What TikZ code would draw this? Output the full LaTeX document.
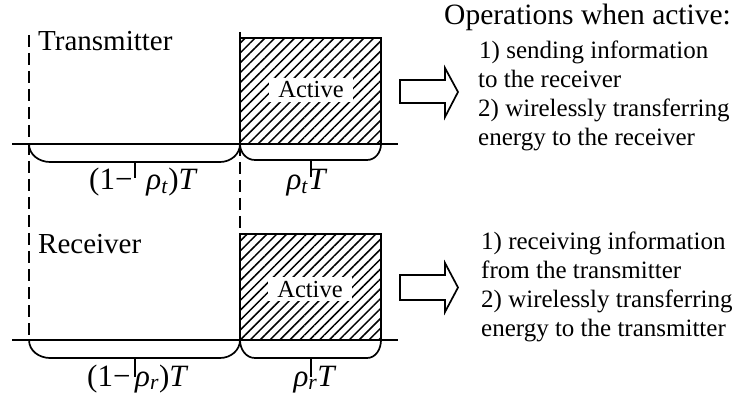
\documentclass[tikz,border=0pt]{standalone}
\usepackage{fontspec}
\setmainfont{Liberation Serif}
\usetikzlibrary{patterns.meta}
\newcommand\myrho{\textit{ρ}}
\begin{document}
\begin{tikzpicture}[x=1pt,y=1pt,
  axisline/.style={line width=1.1pt},
  braceline/.style={line width=1.7pt},
  dashline/.style={line width=1.3pt, dash pattern=on 12pt off 6pt},
  hatchbox/.style={line width=1.7pt, pattern={Lines[angle=45,distance=7pt,line width=1.5pt]}},
  actlabel/.style={fill=white, inner xsep=9pt, inner ysep=4pt, font=\fontsize{24.5}{28}\selectfont, anchor=base},
  rolelabel/.style={font=\fontsize{29}{33}\selectfont, anchor=base west, inner sep=0pt},
  durlabel/.style={font=\fontsize{31}{35}\selectfont, anchor=base, inner sep=0pt},
  optext/.style={font=\fontsize{25}{29}\selectfont, anchor=base west, inner sep=0pt},
  bigarrow/.style={line width=1.7pt, fill=white, line join=miter}
]
\useasboundingbox (0,0) rectangle (736,402);

% ---------- hatched active boxes ----------
\draw[hatchbox] (240,258) rectangle (381,364);
\draw[hatchbox] (240,62) rectangle (381,168);

% ---------- time axes ----------
\draw[axisline] (12,258) -- (398,258);
\draw[axisline] (12,62) -- (398,62);

% ---------- dashed boundaries ----------
\draw[dashline] (29,367) -- (29,62);
\draw[dashline] (240,370) -- (240,364);
\draw[dashline] (240,258) -- (240,168);

% ---------- braces (top) ----------
\draw[braceline] (29,258) to[out=-90,in=180] (50,240) -- (220,240) to[out=0,in=-90] (240,258);
\draw[braceline] (135,240) -- (135,224);
\draw[braceline] (240,258) to[out=-90,in=180] (255,242) -- (367,242) to[out=0,in=-90] (381,258);
\draw[braceline] (311,242) -- (311,225);

% ---------- braces (bottom) ----------
\draw[braceline] (29,62) to[out=-90,in=180] (50,44) -- (220,44) to[out=0,in=-90] (240,62);
\draw[braceline] (135,44) -- (135,25);
\draw[braceline] (240,62) to[out=-90,in=180] (255,44) -- (367,44) to[out=0,in=-90] (381,62);
\draw[braceline] (311,44) -- (311,25);

% ---------- labels ----------
\node[rolelabel] (tx) at (38,351) {Transmitter};
\node[rolelabel] (rx) at (38,149) {Receiver};
\node[actlabel] (acttx) at (311,304) {Active};
\node[actlabel] (actrx) at (310,105) {Active};

\node[durlabel, anchor=base west] (idletx) at (89,212) {(1−\hspace{0.45em}\myrho\textsubscript{\textit{t}})\textit{T}};
\node[durlabel] (ontx) at (307,212) {\myrho\textsubscript{\textit{t}}\textit{T}};
\node[durlabel, anchor=base west] (idlerx) at (87,16) {(1−\hspace{0.15em}\myrho\textsubscript{\textit{r}})\textit{T}};
\node[durlabel] (onrx) at (315,16) {\myrho\textsubscript{\textit{r}}\textit{T}};

% ---------- big arrows ----------
\draw[bigarrow] (400,322) -- (445,322) -- (445,334) -- (458,310) -- (445,285) -- (445,299) -- (400,299) -- cycle;
\draw[bigarrow] (400,127) -- (445,127) -- (445,139) -- (458,114.5) -- (445,90) -- (445,102) -- (400,102) -- cycle;

% ---------- operation texts ----------
\node[font=\fontsize{29.5}{33}\selectfont, anchor=base west, inner sep=0pt] (ophead) at (444,377) {Operations when active:};
\node[optext] (t1) at (479,343) {1) sending information};
\node[optext] (t2) at (478,314) {to the receiver};
\node[optext] (t3) at (478,285) {2) wirelessly transferring};
\node[optext] (t4) at (478,256) {energy to the receiver};

\node[optext] (r1) at (481,153) {1) receiving information};
\node[optext] (r2) at (481,124) {from the transmitter};
\node[optext] (r3) at (481,95) {2) wirelessly transferring};
\node[optext] (r4) at (481,66) {energy to the transmitter};
\end{tikzpicture}
\end{document}
